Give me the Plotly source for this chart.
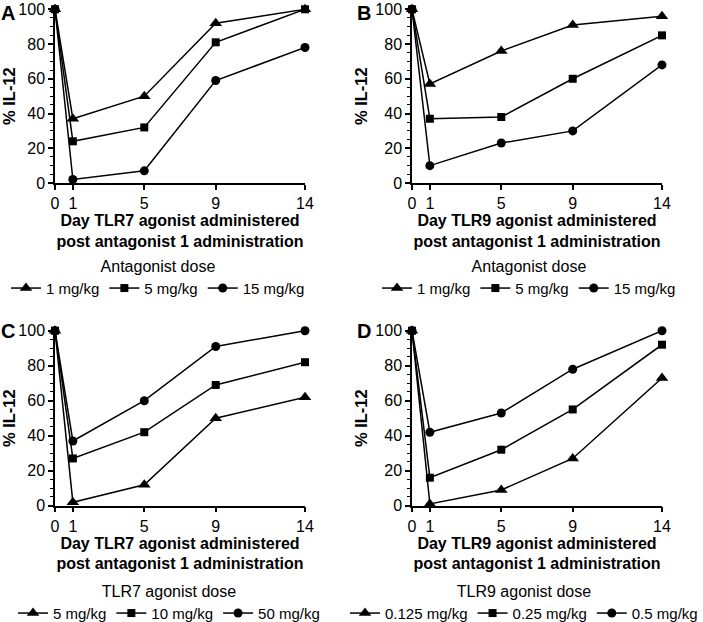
import plotly.graph_objects as go

days = [0, 1, 5, 9, 14]

# Panel A: TLR7 agonist, antagonist dose
a_1 = [100, 37, 50, 92, 100]
a_5 = [100, 24, 32, 81, 100]
a_15 = [100, 2, 7, 59, 78]
# Panel B: TLR9 agonist, antagonist dose
b_1 = [100, 57, 76, 91, 96]
b_5 = [100, 37, 38, 60, 85]
b_15 = [100, 10, 23, 30, 68]
# Panel C: TLR7 agonist dose
c_5 = [100, 2, 12, 50, 62]
c_10 = [100, 27, 42, 69, 82]
c_50 = [100, 37, 60, 91, 100]
# Panel D: TLR9 agonist dose
d_0125 = [100, 1, 9, 27, 73]
d_025 = [100, 16, 32, 55, 92]
d_05 = [100, 42, 53, 78, 100]

panels = [
    ("A", "TLR7", "Antagonist dose", [("1 mg/kg", a_1), ("5 mg/kg", a_5), ("15 mg/kg", a_15)]),
    ("B", "TLR9", "Antagonist dose", [("1 mg/kg", b_1), ("5 mg/kg", b_5), ("15 mg/kg", b_15)]),
    ("C", "TLR7", "TLR7 agonist dose", [("5 mg/kg", c_5), ("10 mg/kg", c_10), ("50 mg/kg", c_50)]),
    ("D", "TLR9", "TLR9 agonist dose", [("0.125 mg/kg", d_0125), ("0.25 mg/kg", d_025), ("0.5 mg/kg", d_05)]),
]
symbols = ["triangle-up", "square", "circle"]

W, H = 703, 622
FONT = "Liberation Sans, Arial, sans-serif"

def px_x(p):
    return p / W

def px_y(p):
    return (H - p) / H

xdom = [(px_x(55), px_x(305)), (px_x(412), px_x(662)), (px_x(55), px_x(305)), (px_x(412), px_x(662))]
ydom = [(px_y(183), px_y(9.3)), (px_y(183), px_y(9.3)), (px_y(505.7), px_y(330.7)), (px_y(505.7), px_y(330.7))]
legend_pos = [(px_x(158), px_y(251), "center"), (px_x(529), px_y(251), "center"),
              (px_x(169), px_y(576), "center"), (1.0, px_y(576), "right")]
legend_font = [15, 15, 15, 15]
letter_pos = [(8, 13), (364, 13), (8, 331), (364, 331)]

sizes = {"triangle-up": 11, "square": 8, "circle": 9}

fig = go.Figure()
layout = dict(
    width=W, height=H,
    margin=dict(l=0, r=0, t=0, b=0, autoexpand=False),
    paper_bgcolor="white", plot_bgcolor="white",
    font=dict(family=FONT, size=15, color="black"),
    showlegend=True,
)
annotations = []

for i, (letter, tlr, legtitle, series) in enumerate(panels):
    n = "" if i == 0 else str(i + 1)
    leg = "legend" + n
    for (name, vals), sym in zip(series, symbols):
        fig.add_trace(go.Scatter(
            x=days, y=vals, name=name, mode="lines+markers",
            xaxis="x" + n, yaxis="y" + n, legend=leg,
            line=dict(color="black", width=1.5),
            marker=dict(symbol=sym, size=sizes[sym], color="black"),
            cliponaxis=False,
        ))
    layout["xaxis" + n] = dict(
        domain=list(xdom[i]), anchor="y" + n, range=[0, 14],
        tickvals=days, ticktext=[str(d) for d in days],
        showline=True, linecolor="black", linewidth=1.5,
        ticks="outside", ticklen=5, tickwidth=1.5, tickcolor="black",
        showgrid=False, zeroline=False,
        tickfont=dict(size=16),
        title=dict(text="<b>Day %s agonist administered<br>post antagonist 1 administration</b>" % tlr,
                   font=dict(size=16), standoff=3),
    )
    layout["yaxis" + n] = dict(
        domain=list(ydom[i]), anchor="x" + n, range=[0, 100],
        tickvals=[0, 20, 40, 60, 80, 100],
        showline=True, linecolor="black", linewidth=1.5,
        ticks="outside", ticklen=5, tickwidth=1.5, tickcolor="black",
        minor=dict(dtick=5, ticks="outside", ticklen=3, tickwidth=1, tickcolor="black"),
        showgrid=False, zeroline=False,
        tickfont=dict(size=16),
        title=dict(text="<b>% IL-12</b>", font=dict(size=16.5), standoff=4),
    )
    lx, ly, xa = legend_pos[i]
    layout[leg] = dict(
        orientation="h", x=lx, y=ly, xanchor=xa, yanchor="top",
        title=dict(text=legtitle, side="top center", font=dict(size=16)),
        font=dict(size=legend_font[i]), itemwidth=30, tracegroupgap=0,
        bgcolor="rgba(0,0,0,0)",
    )
    annotations.append(dict(
        text="<b>%s</b>" % letter, x=px_x(letter_pos[i][0]), y=px_y(letter_pos[i][1]),
        xref="paper", yref="paper", xanchor="center", yanchor="middle",
        showarrow=False, font=dict(size=20, family=FONT),
    ))

layout["annotations"] = annotations
fig.update_layout(**layout)
# remove the browser's default 8px body margin so the figure fills the window
fig.write_html("out.html",
               config={"displayModeBar": False},
               post_script="document.body.style.margin='0';document.body.style.overflow='hidden';")
